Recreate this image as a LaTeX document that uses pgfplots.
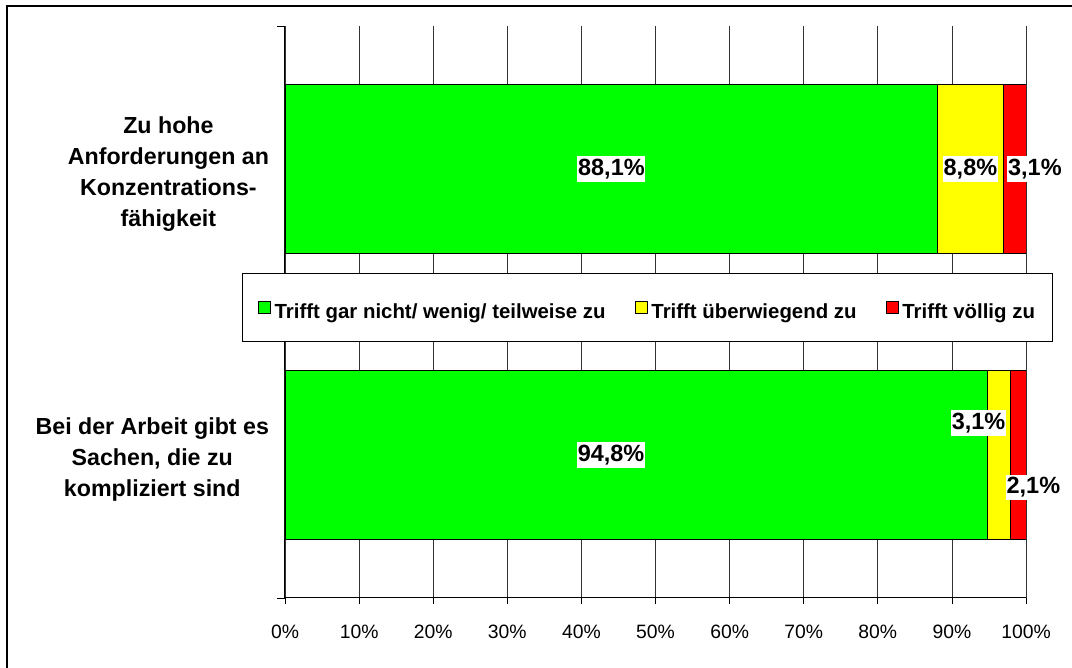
\documentclass[border=0pt]{standalone}
\usepackage{fontspec}
\setmainfont{Liberation Sans}
\usepackage{pgfplots}
\usepackage{pgfplotstable}
\pgfplotsset{compat=1.18}
\definecolor{cgreen}{RGB}{0,255,0}
\definecolor{cyellow}{RGB}{255,255,0}
\definecolor{cred}{RGB}{255,0,0}

\pgfplotstableread{
y green yellow red
0 94.8 3.1 2.1
1 88.1 8.8 3.1
}\bardata

% label positions (x, y) and values
\pgfplotstableread{
x y val
44.05 1.0 88.1
92.5 1.0 8.8
101.2 1.0 3.1
44.0 0.0 94.8
93.6 0.112 3.1
101.0 -0.114 2.1
}\labeldata

\pgfplotsset{
  sqlegend/.style={legend image code/.code={%
    \draw[##1,draw=black,line width=0.6pt] (0pt,-4.5pt) rectangle (9pt,4.5pt);}},
}

\begin{document}
\begin{tikzpicture}
\path[use as bounding box] (0pt,0pt) rectangle (804pt,501pt);
\draw[line width=1.3pt] (5.25pt,0pt) -- (5.25pt,496.5pt) -- (804pt,496.5pt);
\begin{axis}[
  at={(213.75pt,52.5pt)}, anchor=south west,
  scale only axis, width=555.75pt, height=429pt,
  xbar stacked, bar width=0.59,
  xmin=0, xmax=100, ymin=-0.5, ymax=1.5,
  axis lines=left,
  axis line style={-, black, line width=0.75pt},
  /pgf/number format/assume math mode=true,
  xtick={0,10,...,100},
  xticklabel={\pgfmathprintnumber{\tick}\%},
  xticklabel style={font=\fontsize{14.5}{17}\selectfont, yshift=-12.5pt},
  tick align=outside,
  major tick length=4.5pt,
  xtick style={black, line width=0.6pt},
  xmajorgrids,
  grid style={black!80, line width=0.6pt},
  ytick={0,1},
  ytick style={draw=none},
  yticklabels={{Bei der Arbeit gibt es\\Sachen, die zu\\kompliziert sind},{Zu hohe\\Anforderungen an\\Konzentrations-\\fähigkeit}},
  yticklabel style={align=center, font=\bfseries\fontsize{17.4}{23.25}\selectfont, xshift=-4pt, yshift=-3.5pt},
  extra y ticks={-0.5,0.5,1.5},
  extra y tick labels={},
  extra y tick style={ytick style={draw=black, line width=0.6pt}, major tick length=6pt, ymajorgrids=false},
  legend columns=3,
  legend style={at={(-0.058,0.5079)}, anchor=west, draw=black, line width=0.75pt, fill=white,
    inner xsep=11.5pt, inner ysep=16.5pt,
    font=\bfseries\fontsize{15.3}{17}\selectfont,
    nodes={text height=17.5pt, text depth=0.5pt, inner ysep=0pt},
    /tikz/every odd column/.append style={column sep=1pt},
    /tikz/every even column/.append style={column sep=19.75pt}},
  legend cell align=left,
]
\addplot[fill=cgreen, draw=black, line width=0.7pt, sqlegend] table[x=green, y=y] {\bardata};
\addlegendentry{Trifft gar nicht/ wenig/ teilweise zu}
\addplot[fill=cyellow, draw=black, line width=0.7pt, sqlegend] table[x=yellow, y=y] {\bardata};
\addlegendentry{Trifft überwiegend zu}
\addplot[fill=cred, draw=black, line width=0.7pt, sqlegend] table[x=red, y=y] {\bardata};
\addlegendentry{Trifft völlig zu}
\end{axis}
\begin{axis}[
  at={(213.75pt,52.5pt)}, anchor=south west,
  scale only axis, width=555.75pt, height=429pt,
  xmin=0, xmax=100, ymin=-0.5, ymax=1.5,
  hide axis, clip=false,
]
\addplot[only marks, mark=none, point meta=explicit,
  nodes near coords={\pgfmathprintnumber[fixed, fixed zerofill, precision=1, use comma, assume math mode=true]{\pgfplotspointmeta}\%},
  nodes near coords align=center,
  every node near coord/.append style={anchor=center, fill=white, inner xsep=0.5pt, inner ysep=2pt,
    text=black, font=\bfseries\fontsize{17.6}{20}\selectfont},
] table[x=x, y=y, meta=val] {\labeldata};
\end{axis}
\end{tikzpicture}
\end{document}
